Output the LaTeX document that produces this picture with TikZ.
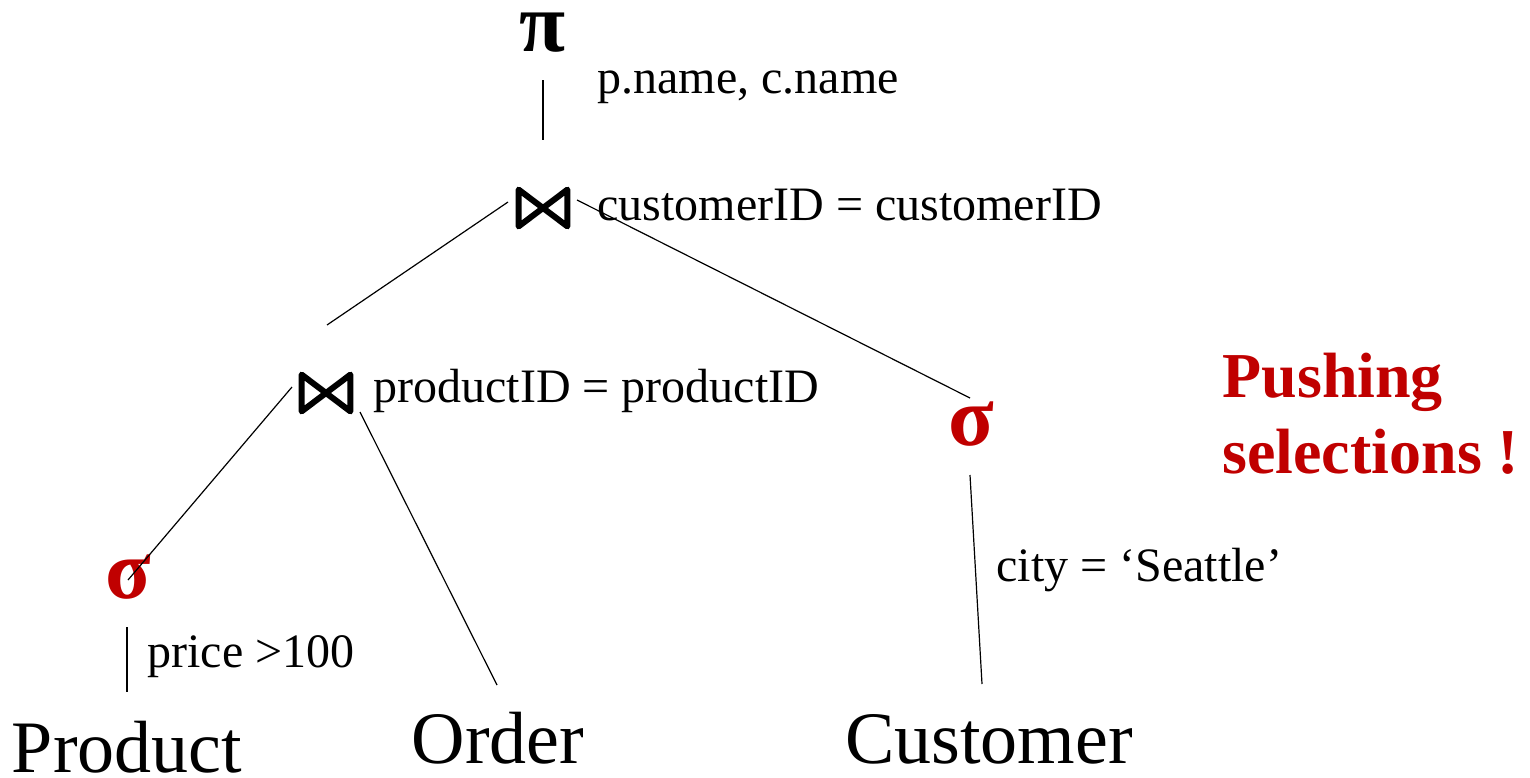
\documentclass[tikz,border=0pt]{standalone}
\usepackage{fontspec}
\setmainfont{Liberation Serif}
\definecolor{selred}{HTML}{C00000}
\begin{document}
\begin{tikzpicture}[x=0.5pt,y=-0.5pt,
  lbl/.style={inner sep=0pt,anchor=base west,font=\fontsize{24}{28}\selectfont},
  rel/.style={inner sep=0pt,anchor=base,font=\fontsize{37}{42}\selectfont},
  opsym/.style={inner sep=0pt,anchor=base,font=\fontsize{42}{46}\selectfont\bfseries},
  selsym/.style={opsym,text=selred},
  bowbox/.style={inner sep=0pt,minimum width=24pt,minimum height=18pt},
  bowline/.style={line width=3pt,line join=round},
  edge/.style={line width=0.6pt},
  note/.style={inner sep=0pt,anchor=base west,text=selred,font=\fontsize{32}{36}\selectfont\bfseries}]
\useasboundingbox (0,0) rectangle (1530,777);
% operators
\node[opsym] (pi) at (543,51) {π};
\node[bowbox] (j1) at (543,208) {};
\node[bowbox] (j2) at (326,393) {};
\node[selsym] (s1) at (128,598) {σ};
\node[selsym] (s2) at (971,445) {σ};
\draw[bowline] (j1.north west) -- (j1.south east) -- (j1.north east) -- (j1.south west) -- cycle;
\draw[bowline] (j2.north west) -- (j2.south east) -- (j2.north east) -- (j2.south west) -- cycle;
% relations
\node[rel] (prod) at (127,772) {Product};
\node[rel] (order) at (498,763) {Order};
\node[rel] (cust) at (989,763) {Customer};
% labels
\node[lbl] (lpi) at (597,93) {p.name, c.name};
\node[lbl] (lj1) at (597,220) {customerID = customerID};
\node[lbl] (lj2) at (373,402) {productID = productID};
\node[lbl] (ls1) at (147,667) {price >100};
\node[lbl] (ls2) at (996,581) {city = ‘Seattle’};
\node[note] (n1) at (1222,397) {Pushing};
\node[note] (n2) at (1222,473) {selections !};
% connectors
\draw[edge] ([shift={(0,29)}]pi.base) -- ([shift={(0,-68)}]j1.center);
\draw[edge] ([shift={(-35,-6)}]j1.center) -- ([shift={(1,-68)}]j2.center);
\draw[edge] ([shift={(34,-8)}]j1.center) -- ([shift={(-1,-47)}]s2.base);
\draw[edge] ([shift={(-34,-6)}]j2.center) -- ([shift={(0,-18)}]s1.base);
\draw[edge] ([shift={(34,19)}]j2.center) -- ([shift={(-1,-78)}]order.base);
\draw[edge] ([shift={(-1,29)}]s1.base) -- ([shift={(0,-80)}]prod.base);
\draw[edge] ([shift={(-1,30)}]s2.base) -- ([shift={(-7,-79)}]cust.base);
\end{tikzpicture}
\end{document}
